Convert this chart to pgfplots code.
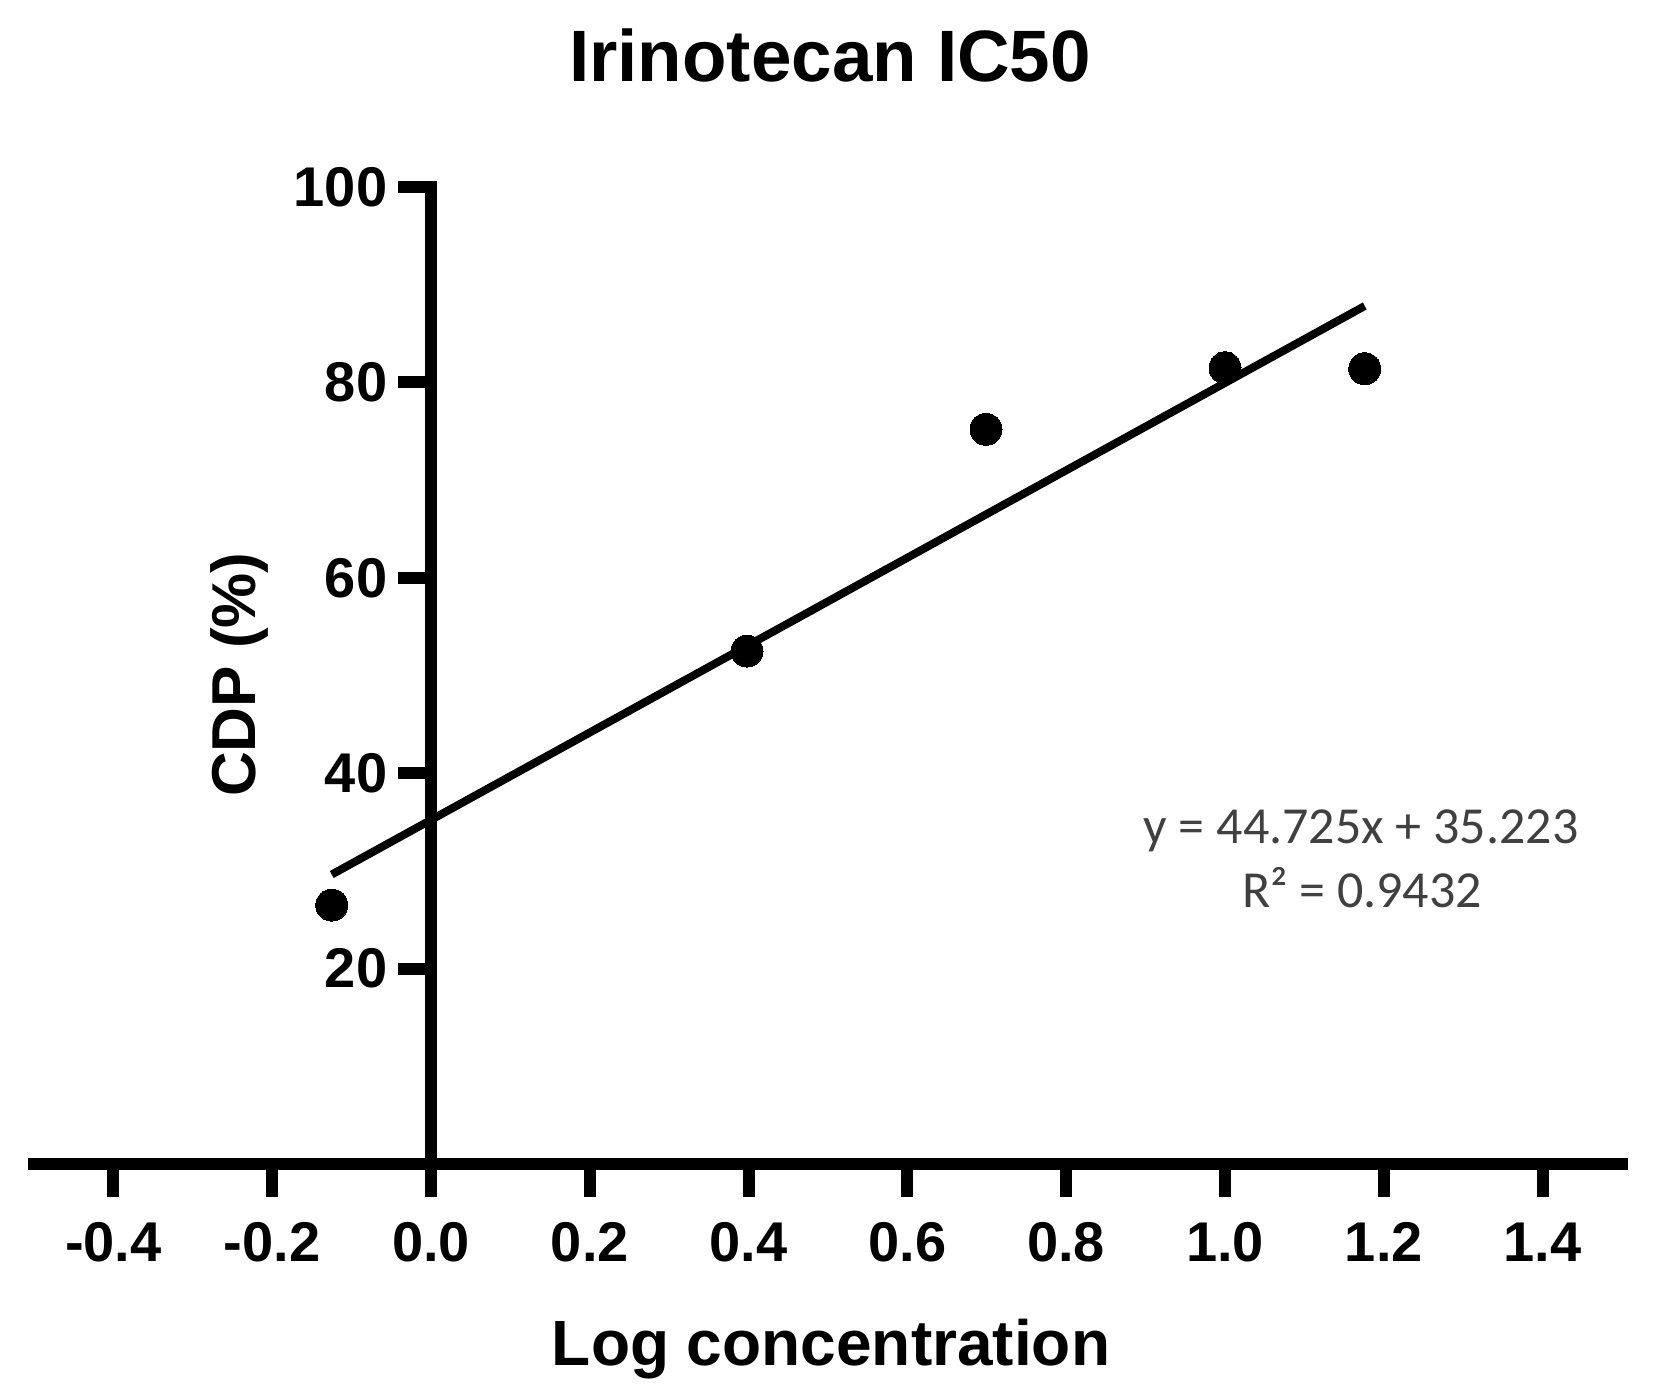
\documentclass[border=0pt]{standalone}
\usepackage{fontspec}
\setmainfont{Liberation Sans}
\newfontfamily\carlito{Carlito}
\usepackage{pgfplots}
\pgfplotsset{compat=1.18}
\definecolor{anngray}{HTML}{404040}
\begin{document}
\begin{tikzpicture}
\useasboundingbox (0,0) rectangle (414pt,348.25pt);
\begin{axis}[
  at={(8.5pt,57.25pt)}, anchor=south west,
  scale only axis, width=397pt, height=244.25pt,
  xmin=-0.5, xmax=1.5, ymin=0, ymax=100,
  enlargelimits=false, clip=false,
  axis lines=middle,
  axis line style={-, line width=3pt, line cap=rect},
  every inner x axis line/.append style={-},
  every inner y axis line/.append style={-},
  hide obscured x ticks=false,
  hide obscured y ticks=false,
  tick align=outside,
  major tick length=8.25pt,
  every tick/.append style={line width=3pt, black, line cap=butt},
  xtick={-0.4,-0.2,0,0.2,0.4,0.6,0.8,1.0,1.2,1.4},
  ytick={20,40,60,80,100},
  minor tick num=0,
  /pgf/number format/assume math mode=true,
  xticklabel style={font=\bfseries\fontsize{14}{16}\selectfont, inner sep=0pt, yshift=-6.25pt,
    /pgf/number format/.cd, fixed, fixed zerofill, precision=1},
  yticklabel style={font=\bfseries\fontsize{14}{16}\selectfont, inner sep=0pt, xshift=-2.5pt,
    /pgf/number format/.cd, fixed, precision=0},
]
\addplot[only marks, mark=*, mark size=4pt, mark options={fill=black, draw=black, line width=0pt}]
  coordinates {(-0.125,26.5) (0.398,52.5) (0.699,75.2) (1.000,81.5) (1.176,81.4)};
\addplot[black, line width=2pt, line cap=butt]
  coordinates {(-0.125,29.63) (1.176,87.82)};
\end{axis}
\node[anchor=base, font=\bfseries\fontsize{18.2}{22}\selectfont] at (207.5pt,327.75pt) {Irinotecan IC50};
\node[anchor=base, font=\bfseries\fontsize{16}{19}\selectfont] at (207.75pt,7pt) {Log concentration};
\node[anchor=base, rotate=90, font=\bfseries\fontsize{15.5}{18}\selectfont] at (63.75pt,179.6pt) {CDP (\%)};
\node[anchor=base, text=anngray, font=\carlito\fontsize{13}{15}\selectfont] at (340.25pt,137.5pt) {y = 44.725x + 35.223};
\node[anchor=base, text=anngray, font=\carlito\fontsize{13}{15}\selectfont] at (340.5pt,121.5pt) {R² = 0.9432};
\end{tikzpicture}
\end{document}
